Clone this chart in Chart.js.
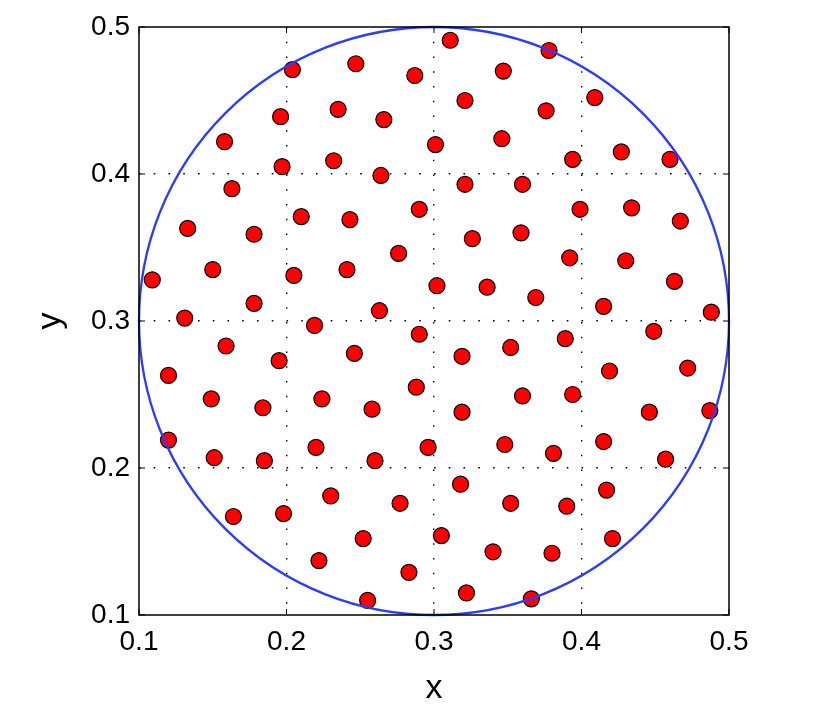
<!DOCTYPE html>
<html>
<head>
<meta charset="utf-8">
<script src="https://cdn.jsdelivr.net/npm/chart.js@4"></script>
<style>
  body { margin: 0; background: #fff; }
  canvas { display: block; }
</style>
</head>
<body>
<canvas id="chart" width="830" height="719"></canvas>
<script>
// point coordinates
const xs = [0.311, 0.378, 0.247, 0.347, 0.204, 0.287, 0.321, 0.409, 0.235, 0.376,
  0.196, 0.266, 0.158, 0.346, 0.301, 0.427, 0.460, 0.394, 0.232, 0.197,
  0.264, 0.163, 0.321, 0.360, 0.399, 0.290, 0.434, 0.467, 0.210, 0.243,
  0.133, 0.326, 0.359, 0.178, 0.276, 0.392, 0.430, 0.150, 0.241, 0.205,
  0.463, 0.109, 0.302, 0.336, 0.369, 0.178, 0.415, 0.263, 0.488, 0.131,
  0.219, 0.449, 0.290, 0.389, 0.159, 0.352, 0.246, 0.319, 0.195, 0.472,
  0.419, 0.120, 0.288, 0.394, 0.360, 0.149, 0.224, 0.184, 0.258, 0.446,
  0.319, 0.487, 0.120, 0.415, 0.348, 0.296, 0.220, 0.381, 0.151, 0.457,
  0.185, 0.260, 0.318, 0.417, 0.230, 0.277, 0.352, 0.390, 0.164, 0.198,
  0.305, 0.252, 0.421, 0.340, 0.380, 0.222, 0.283, 0.322, 0.255, 0.366];
const ys = [0.491, 0.484, 0.475, 0.470, 0.471, 0.467, 0.450, 0.452, 0.444, 0.443,
  0.439, 0.437, 0.422, 0.424, 0.420, 0.415, 0.410, 0.410, 0.409, 0.405,
  0.399, 0.390, 0.393, 0.393, 0.376, 0.376, 0.377, 0.368, 0.371, 0.369,
  0.363, 0.356, 0.360, 0.359, 0.346, 0.343, 0.341, 0.335, 0.335, 0.331,
  0.327, 0.328, 0.324, 0.323, 0.316, 0.312, 0.310, 0.307, 0.306, 0.302,
  0.297, 0.293, 0.291, 0.288, 0.283, 0.282, 0.278, 0.276, 0.273, 0.268,
  0.266, 0.263, 0.255, 0.250, 0.249, 0.247, 0.247, 0.241, 0.240, 0.238,
  0.238, 0.239, 0.219, 0.218, 0.216, 0.214, 0.214, 0.210, 0.207, 0.206,
  0.205, 0.205, 0.189, 0.185, 0.181, 0.176, 0.176, 0.174, 0.167, 0.169,
  0.154, 0.152, 0.152, 0.143, 0.142, 0.137, 0.129, 0.115, 0.110, 0.111];

const circleCenter = [0.3, 0.3];
const circleRadius = 0.2;
const axisMin = 0.1;
const axisMax = 0.5;
const tickStep = 0.1;

const points = xs.map((x, i) => ({ x: x, y: ys[i] }));

const FONT = 'Liberation Sans, Arial, Helvetica, sans-serif';

function isEdge(v) {
  return Math.abs(v - axisMin) < 1e-6 || Math.abs(v - axisMax) < 1e-6;
}

// box, inward tick marks and the blue circle
const framePlugin = {
  id: 'frame',
  afterDatasetsDraw(chart) {
    const { ctx, chartArea: a, scales } = chart;
    const sx = scales.x, sy = scales.y;
    ctx.save();

    // circle through the scales
    const cx = sx.getPixelForValue(circleCenter[0]);
    const cy = sy.getPixelForValue(circleCenter[1]);
    const rx = Math.abs(sx.getPixelForValue(circleCenter[0] + circleRadius) - cx);
    const ry = Math.abs(sy.getPixelForValue(circleCenter[1] + circleRadius) - cy);
    ctx.beginPath();
    ctx.ellipse(cx, cy, rx, ry, 0, 0, Math.PI * 2);
    ctx.strokeStyle = '#2b3cff';
    ctx.lineWidth = 2.3;
    ctx.stroke();

    // box
    ctx.strokeStyle = '#000';
    ctx.lineWidth = 1.5;
    ctx.strokeRect(a.left, a.top, a.right - a.left, a.bottom - a.top);

    // inward tick marks
    const len = 6;
    ctx.lineWidth = 1;
    ctx.beginPath();
    sx.ticks.forEach(t => {
      const px = sx.getPixelForValue(t.value);
      ctx.moveTo(px, a.bottom); ctx.lineTo(px, a.bottom - len);
      ctx.moveTo(px, a.top); ctx.lineTo(px, a.top + len);
    });
    sy.ticks.forEach(t => {
      const py = sy.getPixelForValue(t.value);
      ctx.moveTo(a.left, py); ctx.lineTo(a.left + len, py);
      ctx.moveTo(a.right, py); ctx.lineTo(a.right - len, py);
    });
    ctx.stroke();
    ctx.restore();
  }
};

const gridOpts = {
  color: ctx => (ctx.tick && isEdge(ctx.tick.value)) ? 'rgba(0,0,0,0)' : '#000',
  lineWidth: 1.4,
  drawTicks: false
};

new Chart(document.getElementById('chart'), {
  type: 'scatter',
  data: {
    datasets: [{
      data: points,
      backgroundColor: '#ff0000',
      borderColor: '#000',
      borderWidth: 1.2,
      pointRadius: 8,
      pointHoverRadius: 8
    }]
  },
  options: {
    responsive: false,
    animation: false,
    layout: { padding: { left: 0, top: 27, right: 101, bottom: 0 } },
    plugins: { legend: { display: false }, tooltip: { enabled: false } },
    scales: {
      x: {
        min: axisMin, max: axisMax,
        afterFit: s => { s.height = 104; },
        border: { display: false, dash: [1.6, 13.15] },
        grid: gridOpts,
        ticks: {
          stepSize: tickStep,
          padding: 10,
          color: '#000',
          font: { family: FONT, size: 28 },
          callback: v => v.toFixed(1)
        },
        title: {
          display: true, text: 'x', color: '#000',
          font: { family: FONT, size: 34 },
          padding: { top: 0, bottom: 10 }
        }
      },
      y: {
        min: axisMin, max: axisMax,
        afterFit: s => { s.width = 139; },
        border: { display: false, dash: [1.6, 13.15] },
        grid: gridOpts,
        ticks: {
          stepSize: tickStep,
          padding: 9,
          color: '#000',
          font: { family: FONT, size: 28 },
          callback: v => v.toFixed(1)
        },
        title: {
          display: true, text: 'y', color: '#000',
          font: { family: FONT, size: 34 },
          padding: { top: 30, bottom: 0 }
        }
      }
    }
  },
  plugins: [framePlugin]
});
</script>
</body>
</html>
